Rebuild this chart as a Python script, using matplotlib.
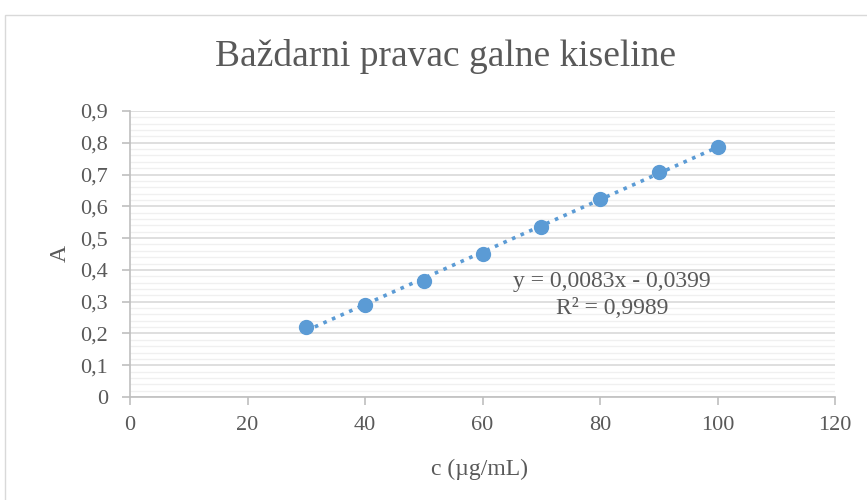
import numpy as np
import matplotlib
matplotlib.use('Agg')
import matplotlib.pyplot as plt
from matplotlib.ticker import MultipleLocator, FuncFormatter
from matplotlib.patches import Rectangle

plt.rcParams['font.family'] = ['Liberation Serif', 'DejaVu Serif']

# data
conc = [30, 40, 50, 60, 70, 80, 90, 100]
absorb = [0.220, 0.290, 0.364, 0.451, 0.534, 0.624, 0.708, 0.788]

title = 'Baždarni pravac galne kiseline'
xlabel = 'c (µg/mL)'
ylabel = 'A'

BLUE = '#5b9bd5'
TXT = '#595959'

fig = plt.figure(figsize=(8.67, 5), dpi=100)
fig.patches.append(Rectangle((5/867, -0.1), 1.2, 1 - 15/500 + 0.1, transform=fig.transFigure,
                             fill=False, edgecolor='#d9d9d9', linewidth=1))
ax = fig.add_axes([130/867, 1 - 397/500, 705/867, 286/500])

# trendline (linear fit)
k, n = np.polyfit(conc, absorb, 1)
xs = np.array([min(conc), max(conc)])
ax.plot(xs, k*xs + n, linestyle=(0, (1, 1.6)), color=BLUE, linewidth=2.6, zorder=3)
ax.plot(conc, absorb, 'o', color=BLUE, markersize=10, zorder=4)

ax.set_xlim(0, 120)
ax.set_ylim(0, 0.9)
ax.xaxis.set_major_locator(MultipleLocator(20))
ax.yaxis.set_major_locator(MultipleLocator(0.1))
ax.yaxis.set_minor_locator(MultipleLocator(0.02))

comma = FuncFormatter(lambda v, p: ('%g' % round(v, 2)).replace('.', ','))
ax.xaxis.set_major_formatter(comma)
ax.yaxis.set_major_formatter(comma)

ax.grid(axis='y', which='major', color='#d9d9d9', linewidth=1.2)
ax.grid(axis='y', which='minor', color='#f0f0f0', linewidth=1)
ax.set_axisbelow(True)

for s in ['top', 'right']:
    ax.spines[s].set_visible(False)
for s in ['left', 'bottom']:
    ax.spines[s].set_color('#bfbfbf')
    ax.spines[s].set_linewidth(1.2)

ax.tick_params(axis='both', which='major', direction='out', length=6, color='#bfbfbf',
               labelcolor=TXT, labelsize=16, width=1.2)
ax.tick_params(axis='y', which='minor', length=0)
ax.tick_params(axis='y', pad=10)
ax.tick_params(axis='x', pad=8)

ax.set_xlabel(xlabel, fontsize=17, color=TXT)
ax.set_ylabel(ylabel, fontsize=17, color=TXT)
ax.xaxis.set_label_coords(0.496, -0.216)
ax.yaxis.set_label_coords(-0.084, 0.503)
fig.text(446/867, 1 - 57/500, title, fontsize=27, color=TXT, ha='center', va='center')

ax.text(82, 0.365, 'y = 0,0083x - 0,0399', fontsize=17, color=TXT, ha='center', va='center')
ax.text(82, 0.28, 'R² = 0,9989', fontsize=17, color=TXT, ha='center', va='center')

plt.savefig('out.png', dpi=100)
